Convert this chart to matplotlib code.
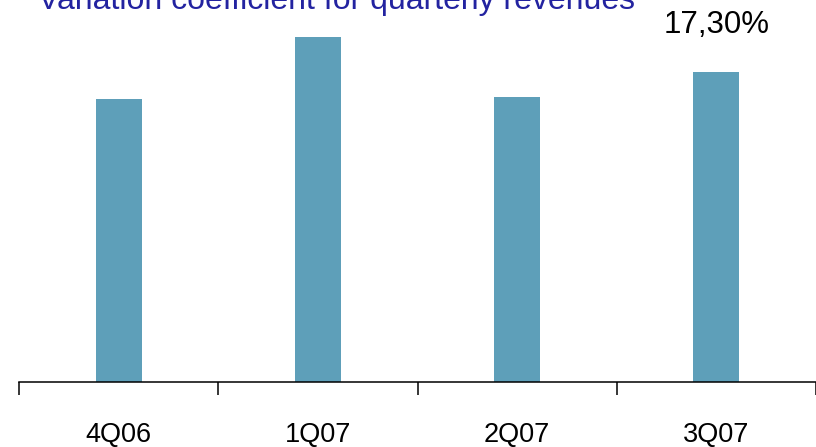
import matplotlib.pyplot as plt

plt.rcParams['font.family'] = ['Liberation Sans', 'DejaVu Sans']

# Quarterly variation coefficient (%)
quarters = ["4Q06", "1Q07", "2Q07", "3Q07"]
variation = [15.79, 19.25, 15.90, 17.30]
value_labels = [None, None, None, "17,30%"]

bar_colour = "#5e9fb9"

fig = plt.figure(figsize=(8.16, 4.47), dpi=100)
ax = fig.add_axes([19 / 816, 65 / 447, 797 / 816, 382 / 447])

x = list(range(len(quarters)))
bars = ax.bar(x, variation, width=0.23, color=bar_colour)

for bar, label in zip(bars, value_labels):
    if label:
        ax.annotate(label, (bar.get_x() + bar.get_width() / 2, bar.get_height()),
                    xytext=(0, 28), textcoords="offset points",
                    ha="center", va="baseline", fontsize=22.5)

ax.set_xlim(-0.5, 3.479)
ax.set_ylim(0, 382 / 17.92)

# Boundary ticks between quarters, labels centred under each bar
ax.set_xticks([i - 0.5 for i in range(len(quarters) + 1)])
ax.set_xticklabels([])
ax.set_xticks(x, minor=True)
ax.set_xticklabels(quarters, minor=True, fontsize=19.5)
ax.tick_params(axis="x", which="major", direction="out", length=9.5, width=1.1)
ax.tick_params(axis="x", which="minor", length=0, pad=29)
ax.set_yticks([])

for side in ["left", "right", "top"]:
    ax.spines[side].set_visible(False)
ax.spines["bottom"].set_linewidth(1.1)

fig.text(38 / 816, 1 - 9 / 447, "Variation coefficient for quarterly revenues",
         color="#2323a0", fontsize=23, ha="left", va="baseline")

fig.savefig("out.png", dpi=100)
